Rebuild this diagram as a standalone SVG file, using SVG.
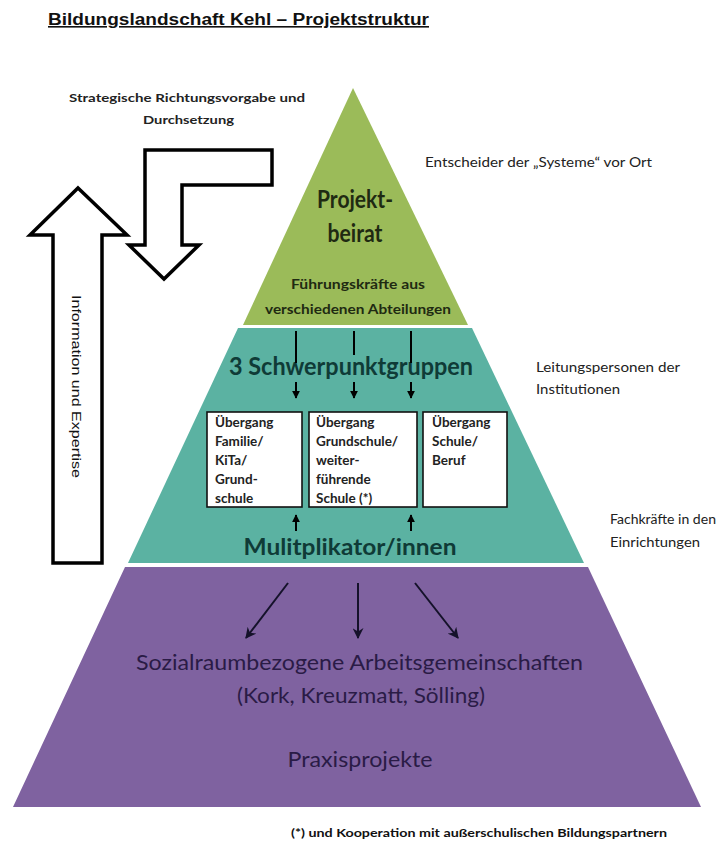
<svg xmlns="http://www.w3.org/2000/svg" width="726" height="843" viewBox="0 0 726 843">
<style>
  .bg { fill: #ffffff; }
  .big-arrow { fill: #ffffff; stroke: #000000; stroke-width: 3.5; stroke-linejoin: miter; }
  .green { fill: #9bbb59; }
  .teal { fill: #5bb2a2; }
  .purple { fill: #7f62a0; }
  .box { fill: #ffffff; stroke: #111111; stroke-width: 1.6; }
  .cal { font-family: Lato, "Open Sans", "Noto Sans", sans-serif; }
  .ari { font-family: "Liberation Sans", Arial, sans-serif; }
  .side { font-size: 12.5px; fill: #222222; }
  .boxtxt { font-size: 13.5px; font-weight: bold; fill: #222222; }
  .gtxt { fill: #1f2a12; font-weight: bold; }
  .ttxt { fill: #0f3b37; font-weight: bold; }
  .ptxt { fill: #2a1b46; }
  .conn { stroke: #000000; stroke-width: 2; fill: none; }
  .conn-p { stroke: #15122a; stroke-width: 2; fill: none; }
</style>
<defs>
  <marker id="ah" viewBox="0 0 10 10" refX="9" refY="5" markerWidth="8" markerHeight="8" markerUnits="userSpaceOnUse" orient="auto">
    <path d="M0,0 L10,5 L0,10 z" fill="#000000"/>
  </marker>
  <marker id="ahp" viewBox="0 0 10 10" refX="9" refY="5" markerWidth="11" markerHeight="11" markerUnits="userSpaceOnUse" orient="auto">
    <path d="M0,0 L10,5 L0,10 L3,5 z" fill="#15122a"/>
  </marker>
</defs>
<rect class="bg" x="0" y="0" width="726" height="843"/>

<g id="title">
  <text class="ari" x="48" y="25" font-size="16" font-weight="bold" fill="#111111" text-decoration="underline" textLength="381" lengthAdjust="spacingAndGlyphs">Bildungslandschaft Kehl – Projektstruktur</text>
</g>

<g id="label-strategie">
  <text class="cal" x="187" y="102" font-size="12" font-weight="bold" fill="#222222" text-anchor="middle" textLength="236" lengthAdjust="spacingAndGlyphs">Strategische Richtungsvorgabe und</text>
  <text class="cal" x="188.5" y="124" font-size="12" font-weight="bold" fill="#222222" text-anchor="middle" textLength="91" lengthAdjust="spacingAndGlyphs">Durchsetzung</text>
</g>

<g id="arrow-strategie">
  <polygon class="big-arrow" points="145,150 272,150 272,185 182,185 182,245 199,245 164,279 129,245 145,245"/>
</g>

<g id="arrow-information">
  <polygon class="big-arrow" points="78,188 127,235 102,235 102,563 53,563 53,235 30,235"/>
  <text class="ari" x="0" y="0" font-size="13" fill="#111111" text-anchor="middle" textLength="183" lengthAdjust="spacingAndGlyphs" transform="translate(72,386.5) rotate(90)">Information und Expertise</text>
</g>

<g id="tier-projektbeirat">
  <polygon class="green" points="353,88 468,325 243,325"/>
  <text class="cal gtxt" x="355" y="208" font-size="24" text-anchor="middle" textLength="76" lengthAdjust="spacingAndGlyphs">Projekt-</text>
  <text class="cal gtxt" x="355" y="242" font-size="24" text-anchor="middle" textLength="55" lengthAdjust="spacingAndGlyphs">beirat</text>
  <text class="cal gtxt" x="358" y="289" font-size="13.5" text-anchor="middle" textLength="134" lengthAdjust="spacingAndGlyphs">Führungskräfte aus</text>
  <text class="cal gtxt" x="358" y="314" font-size="13.5" text-anchor="middle" textLength="186" lengthAdjust="spacingAndGlyphs">verschiedenen Abteilungen</text>
</g>

<g id="tier-schwerpunktgruppen">
  <polygon class="teal" points="238,328 472,328 584,563 128,563"/>
  <text class="cal ttxt" x="351" y="375" font-size="25" text-anchor="middle" textLength="244" lengthAdjust="spacingAndGlyphs">3 Schwerpunktgruppen</text>
  <text class="cal ttxt" x="350" y="555" font-size="22" text-anchor="middle" textLength="213" lengthAdjust="spacingAndGlyphs">Mulitplikator/innen</text>
</g>

<g id="box-familie">
  <rect class="box" x="207" y="412" width="95" height="95"/>
  <text class="cal boxtxt" x="215" y="427">Übergang</text>
  <text class="cal boxtxt" x="215" y="446">Familie/</text>
  <text class="cal boxtxt" x="215" y="465">KiTa/</text>
  <text class="cal boxtxt" x="215" y="484">Grund-</text>
  <text class="cal boxtxt" x="215" y="503">schule</text>
</g>

<g id="box-grundschule">
  <rect class="box" x="309" y="412" width="108" height="95"/>
  <text class="cal boxtxt" x="316" y="427">Übergang</text>
  <text class="cal boxtxt" x="316" y="446">Grundschule/</text>
  <text class="cal boxtxt" x="316" y="465">weiter-</text>
  <text class="cal boxtxt" x="316" y="484">führende</text>
  <text class="cal boxtxt" x="316" y="503">Schule (*)</text>
</g>

<g id="box-beruf">
  <rect class="box" x="423" y="412" width="84" height="95"/>
  <text class="cal boxtxt" x="432" y="427">Übergang</text>
  <text class="cal boxtxt" x="432" y="446">Schule/</text>
  <text class="cal boxtxt" x="432" y="465">Beruf</text>
</g>

<g id="tier-arbeitsgemeinschaften">
  <polygon class="purple" points="125,567 588,567 701,807 13,807"/>
  <text class="cal ptxt" x="359.5" y="670" font-size="21.5" text-anchor="middle" textLength="447" lengthAdjust="spacingAndGlyphs">Sozialraumbezogene Arbeitsgemeinschaften</text>
  <text class="cal ptxt" x="361" y="703" font-size="21" text-anchor="middle" textLength="248" lengthAdjust="spacingAndGlyphs">(Kork, Kreuzmatt, Sölling)</text>
  <text class="cal ptxt" x="360" y="767" font-size="21.5" text-anchor="middle" textLength="145" lengthAdjust="spacingAndGlyphs">Praxisprojekte</text>
</g>

<g id="label-entscheider">
  <text class="cal side" x="425" y="167" textLength="227" lengthAdjust="spacingAndGlyphs">Entscheider der „Systeme“ vor Ort</text>
</g>

<g id="label-leitung">
  <text class="cal side" x="536" y="372" textLength="144" lengthAdjust="spacingAndGlyphs">Leitungspersonen der</text>
  <text class="cal side" x="536" y="394" textLength="84" lengthAdjust="spacingAndGlyphs">Institutionen</text>
</g>

<g id="label-fachkraefte">
  <text class="cal side" x="610" y="524" textLength="106" lengthAdjust="spacingAndGlyphs">Fachkräfte in den</text>
  <text class="cal side" x="610" y="547" textLength="90" lengthAdjust="spacingAndGlyphs">Einrichtungen</text>
</g>

<g id="footnote">
  <text class="cal" x="291" y="837" font-size="11" font-weight="bold" fill="#111111" textLength="376" lengthAdjust="spacingAndGlyphs">(*) und Kooperation mit außerschulischen Bildungspartnern</text>
</g>

<g id="connectors">
  <line class="conn" x1="296" y1="331" x2="296" y2="363"/>
  <line class="conn" x1="354" y1="331" x2="354" y2="355"/>
  <line class="conn" x1="411" y1="331" x2="411" y2="363"/>
  <line class="conn" x1="296" y1="382" x2="296" y2="398" marker-end="url(#ah)"/>
  <line class="conn" x1="354" y1="382" x2="354" y2="398" marker-end="url(#ah)"/>
  <line class="conn" x1="411" y1="382" x2="411" y2="398" marker-end="url(#ah)"/>
  <line class="conn" x1="296" y1="531" x2="296" y2="515" marker-end="url(#ah)"/>
  <line class="conn" x1="411" y1="531" x2="411" y2="515" marker-end="url(#ah)"/>
  <line class="conn-p" x1="288" y1="583" x2="246" y2="638" marker-end="url(#ahp)"/>
  <line class="conn-p" x1="358" y1="583" x2="358" y2="638" marker-end="url(#ahp)"/>
  <line class="conn-p" x1="415" y1="583" x2="458" y2="638" marker-end="url(#ahp)"/>
</g>
</svg>
